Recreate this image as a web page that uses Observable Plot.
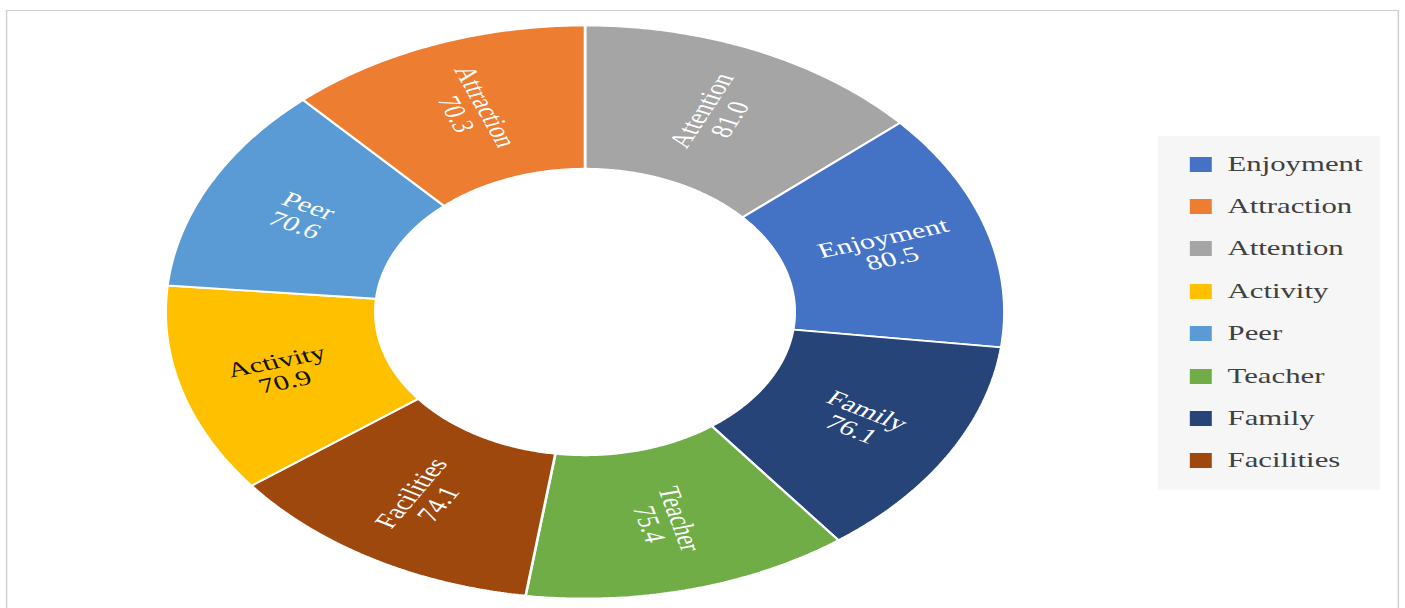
<!DOCTYPE html>
<html>
<head>
<meta charset="utf-8">
<script src="https://cdn.jsdelivr.net/npm/d3@7"></script>
<script src="https://cdn.jsdelivr.net/npm/@observablehq/plot@0.6"></script>
<style>
html, body { margin: 0; padding: 0; background: #fff; overflow: hidden; }
#stage { position: relative; width: 960px; height: 608px; transform: scaleX(1.4635); transform-origin: 0 0; }
#frame { position: absolute; left: 3.5px; top: 10px; width: 952.6px; height: 700px; box-sizing: border-box; border: 1.3px solid #d0d0d0; }
#chart { position: absolute; left: 0; top: 0; }
#legend { position: absolute; left: 791px; top: 136px; width: 151.6px; height: 354px; background: #f6f6f6; }
.item { position: absolute; left: 0; height: 26px; display: flex; align-items: center; font-family: "Liberation Serif", serif; font-size: 21px; color: #404040; white-space: nowrap; }
.sw { position: absolute; width: 15px; height: 15px; }
.lbl { position: absolute; }
</style>
</head>
<body>
<div id="stage">
  <div id="frame"></div>
  <div id="chart"></div>
  <div id="legend"></div>
</div>
<script>
// Slices, clockwise from 12 o'clock
const categories = ["Attention", "Enjoyment", "Family", "Teacher", "Facilities", "Activity", "Peer", "Attraction"];
const values = [81.0, 80.5, 76.1, 75.4, 74.1, 70.9, 70.6, 70.3];
// Legend order and colours
const legendOrder = ["Enjoyment", "Attraction", "Attention", "Activity", "Peer", "Teacher", "Family", "Facilities"];
const colors = ["#4472C4", "#ED7D31", "#A5A5A5", "#FFC000", "#5B9BD5", "#70AD47", "#264478", "#9E480E"];

const innerRatio = 0.5;
const arcs = d3.pie().sort(null).value((d, i) => values[i])(categories);

const points = [];
const labels = [];
for (const a of arcs) {
  const n = Math.max(2, Math.ceil((a.endAngle - a.startAngle) / (Math.PI / 360)));
  const outer = [], inner = [];
  for (let k = 0; k <= n; k++) {
    const t = a.startAngle + (a.endAngle - a.startAngle) * k / n;
    outer.push({cat: a.data, x: Math.sin(t), y: Math.cos(t)});
    inner.push({cat: a.data, x: innerRatio * Math.sin(t), y: innerRatio * Math.cos(t)});
  }
  points.push(...outer, ...inner.reverse());
  const mid = (a.startAngle + a.endAngle) / 2;
  let rot = mid * 180 / Math.PI - 90;
  if (rot > 90) rot -= 180;
  if (rot < -90) rot += 180;
  const r = 0.755;
  labels.push({cat: a.data, x: r * Math.sin(mid), y: r * Math.cos(mid), rotate: rot, text: a.data + "\n" + a.value.toFixed(1)});
}

const chart = Plot.plot({
  width: 960,
  height: 608,
  marginLeft: 112.7,
  marginRight: 274.2,
  marginTop: 25,
  marginBottom: 10,
  x: {domain: [-1, 1], axis: null},
  y: {domain: [-1, 1], axis: null},
  color: {domain: legendOrder, range: colors},
  style: {background: "transparent", overflow: "visible"},
  marks: [
    Plot.line(points, {x: "x", y: "y", z: "cat", fill: "cat", stroke: "white", strokeWidth: 1.8, strokeLinejoin: "miter", curve: "linear-closed"}),
    Plot.text(labels, {filter: d => d.cat !== "Activity", x: "x", y: "y", text: "text", rotate: "rotate", fill: "white", fontSize: 21, fontFamily: "Liberation Serif", lineHeight: 1.02}),
    Plot.text(labels, {filter: d => d.cat === "Activity", x: "x", y: "y", text: "text", rotate: "rotate", fill: "#111", fontSize: 21, fontFamily: "Liberation Serif", lineHeight: 1.02})
  ]
});
document.getElementById("chart").appendChild(chart);

// Legend built from the chart's colour scale
const cs = chart.scale("color");
const legend = document.getElementById("legend");
cs.domain.forEach((name, i) => {
  const item = document.createElement("div");
  item.className = "item";
  item.style.top = (28 + 42.4 * i - 13) + "px";
  item.style.width = "151px";
  const sw = document.createElement("span");
  sw.className = "sw";
  sw.style.left = "21.8px";
  sw.style.top = "5.5px";
  sw.style.background = cs.range[i];
  const lb = document.createElement("span");
  lb.className = "lbl";
  lb.style.left = "47.8px";
  lb.textContent = name;
  item.appendChild(sw);
  item.appendChild(lb);
  legend.appendChild(item);
});
</script>
</body>
</html>
